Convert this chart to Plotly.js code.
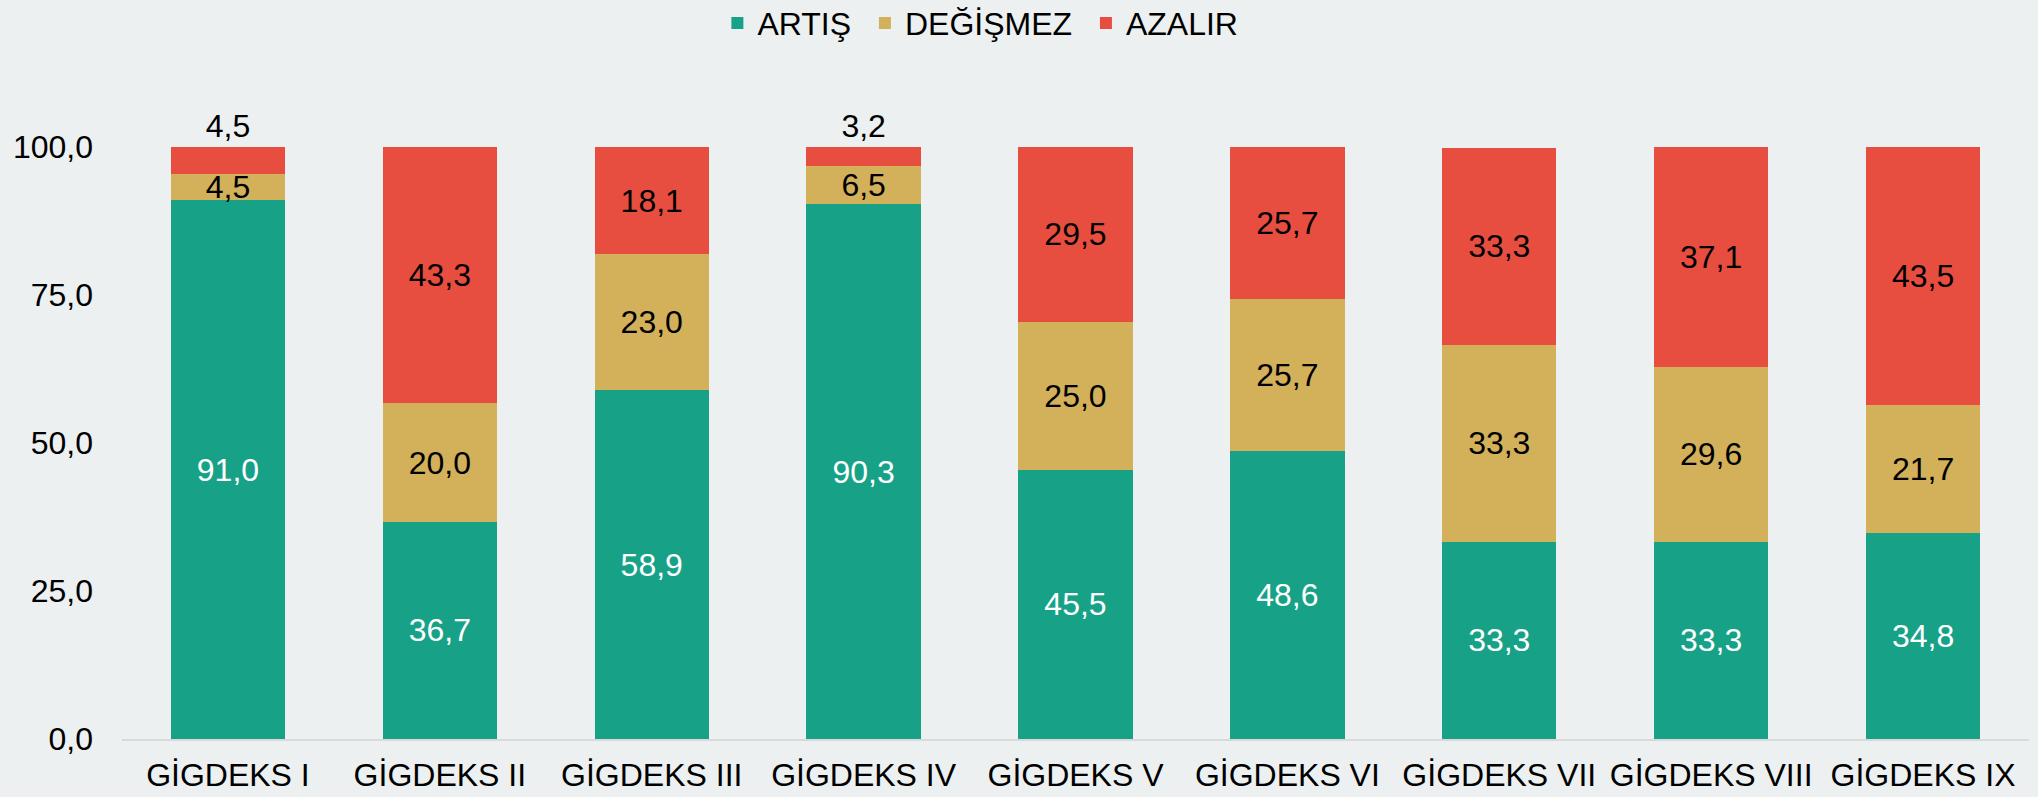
<!DOCTYPE html>
<html>
<head>
<meta charset="utf-8">
<script src="https://cdn.plot.ly/plotly-3.0.1.min.js"></script>
<style>
html,body{margin:0;padding:0;background:#ECF0F1;}
#chart{width:2038px;height:797px;}
</style>
</head>
<body>
<div id="chart"></div>
<script>
const categories = ["GİGDEKS I","GİGDEKS II","GİGDEKS III","GİGDEKS IV","GİGDEKS V","GİGDEKS VI","GİGDEKS VII","GİGDEKS VIII","GİGDEKS IX"];
const seriesNames = ["ARTIŞ", "DEĞİŞMEZ", "AZALIR"];
const artis    = [91.0, 36.7, 58.9, 90.3, 45.5, 48.6, 33.3, 33.3, 34.8];
const degismez = [4.5, 20.0, 23.0, 6.5, 25.0, 25.7, 33.3, 29.6, 21.7];
const azalir   = [4.5, 43.3, 18.1, 3.2, 29.5, 25.7, 33.3, 37.1, 43.5];
const yTicks = [0, 25, 50, 75, 100];

const FONT = "Liberation Sans, Arial, sans-serif";
const FS = 32;
const LFS = 32;
const PAD = "\u00a0";

function azalirPos(v){ return v.map(x => x < 5 ? "outside" : "inside"); }

const traces = [
  {type:"bar", name:seriesNames[0] + PAD, x:categories, y:artis, marker:{color:"#17A288"},
   texttemplate:"%{y:.1f}", textposition:"inside", insidetextanchor:"middle",
   textfont:{color:"#FFFFFF", size:FS, family:FONT}, constraintext:"none", cliponaxis:false, hoverinfo:"skip"},
  {type:"bar", name:seriesNames[1] + PAD, x:categories, y:degismez, marker:{color:"#D3B05A"},
   texttemplate:"%{y:.1f}", textposition:"inside", insidetextanchor:"middle",
   textfont:{color:"#000000", size:FS, family:FONT}, constraintext:"none", cliponaxis:false, hoverinfo:"skip"},
  {type:"bar", name:seriesNames[2], x:categories, y:azalir, marker:{color:"#E84E3F"},
   texttemplate:"%{y:.1f}", textposition:azalirPos(azalir), insidetextanchor:"middle",
   textfont:{color:"#000000", size:FS, family:FONT},
   outsidetextfont:{color:"#000000", size:FS, family:FONT},
   constraintext:"none", cliponaxis:false, hoverinfo:"skip"}
];

const layout = {
  width:2038, height:797,
  paper_bgcolor:"#ECF0F1", plot_bgcolor:"#ECF0F1",
  font:{family:FONT, size:FS, color:"#000000"},
  separators:",.",
  barmode:"stack", bargap:0.46,
  margin:{l:122, r:9, t:147, b:57.5, autoexpand:false},
  showlegend:true,
  legend:{orientation:"h", x:0.352, xanchor:"left", xref:"container", y:0.971, yref:"container", yanchor:"middle",
          font:{size:LFS, family:FONT}, traceorder:"normal", itemwidth:30, bgcolor:"rgba(0,0,0,0)"},
  xaxis:{type:"category", showgrid:false, showline:true, linecolor:"#D9D9D9", linewidth:2,
         ticks:"", tickfont:{size:FS, family:FONT}, ticklabelstandoff:7, fixedrange:true, automargin:false},
  yaxis:{range:[0,100], tickvals:yTicks, tickformat:".1f", showgrid:false, zeroline:false,
         showline:false, ticks:"", tickfont:{size:FS, family:FONT}, ticklabelstandoff:28, fixedrange:true, automargin:false}
};

Plotly.newPlot("chart", traces, layout, {displayModeBar:false, staticPlot:true});
</script>
</body>
</html>
